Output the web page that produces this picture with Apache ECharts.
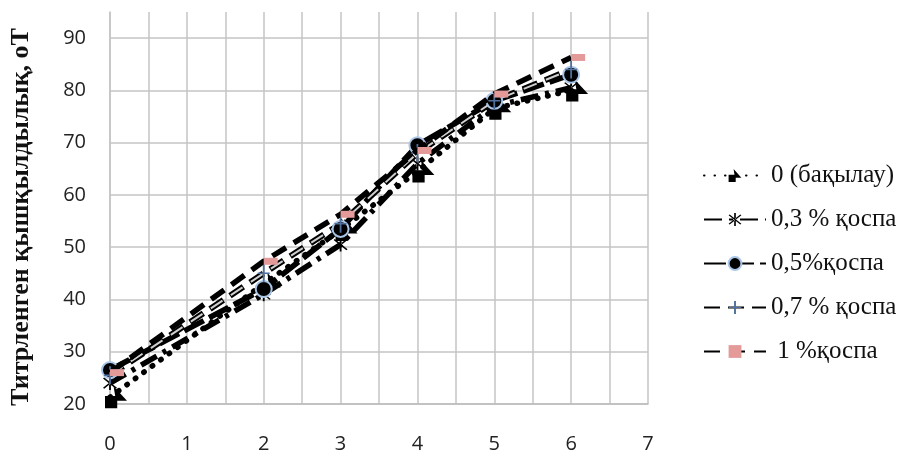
<!DOCTYPE html>
<html>
<head>
<meta charset="utf-8">
<script src="https://cdn.jsdelivr.net/npm/echarts@6/dist/echarts.min.js"></script>
<style>
  html, body { margin: 0; padding: 0; background: #fff; }
  #chart { width: 907px; height: 456px; }
</style>
</head>
<body>
<div id="chart"></div>
<script>
// Storage time (x) and titratable acidity (°T) for each additive level
const days = [0, 2, 3, 4, 5, 6];
const seriesNames = ['0 (бақылау)', '0,3 % қоспа', '0,5%қоспа', '0,7 % қоспа', ' 1 %қоспа'];
const control = [21.3, 43, 53.3, 64.5, 76.5, 80];
const add03 = [24, 41, 50.5, 66, 77, 80.5];
const add05 = [26.5, 42, 53.5, 69.5, 78, 83];
const add07 = [25.5, 45, 54.5, 68, 78, 84];
const add10 = [26, 47.3, 56.3, 68.5, 79.3, 86.3];
const xTicks = [0, 1, 2, 3, 4, 5, 6, 7];
const yTicks = [20, 30, 40, 50, 60, 70, 80, 90];

const pts = arr => days.map((d, i) => [d, arr[i]]);

// Marker shapes
const squareTri = 'path://M0,8 L10,8 L10,18 L0,18 Z M7,0 L18,12 L9,12 Z';
const asterisk = 'path://M-0.6,-6 L0.6,-6 L0.6,6 L-0.6,6 Z M-4.6,-4 L-3.8,-4.8 L4.6,4 L3.8,4.8 Z M4.6,-4 L3.8,-4.8 L-4.6,4 L-3.8,4.8 Z';
const thinPlus = 'path://M-0.6,-7 L0.6,-7 L0.6,7 L-0.6,7 Z M-4,-0.6 L4,-0.6 L4,0.6 L-4,0.6 Z';
const pinkDash = 'path://M0,0 L14,0 L14,6 L0,6 Z';

const chart = echarts.init(document.getElementById('chart'));
chart.setOption({
  animation: false,
  backgroundColor: '#ffffff',
  grid: { left: 107, right: 259, top: 12, bottom: 52 },
  xAxis: {
    type: 'value',
    min: xTicks[0],
    max: xTicks[xTicks.length - 1],
    interval: 0.5,
    axisLine: { show: true, lineStyle: { color: '#bdbdbd', width: 1.5 } },
    axisTick: { show: false },
    axisLabel: {
      margin: 30,
      fontFamily: 'Open Sans',
      fontSize: 20,
      color: '#222',
      formatter: v => (xTicks.indexOf(v) >= 0 ? String(v) : '')
    },
    splitLine: { show: true, lineStyle: { color: '#c4c4c4', width: 1.5 } }
  },
  yAxis: {
    type: 'value',
    min: yTicks[0],
    max: 95,
    interval: 10,
    name: 'Титрленген қышқылдылық, оТ',
    nameLocation: 'middle',
    nameGap: 76,
    nameTextStyle: {
      fontFamily: 'Liberation Serif',
      fontWeight: 'bold',
      fontSize: 26,
      color: '#111',
      padding: [0, 0, 0, -18]
    },
    axisLine: { show: true, lineStyle: { color: '#c4c4c4', width: 1.5 } },
    axisTick: { show: false },
    axisLabel: {
      margin: 24,
      fontFamily: 'Open Sans',
      fontSize: 20,
      color: '#222',
      showMaxLabel: false,
      formatter: v => (yTicks.indexOf(v) >= 0 ? String(v) : '')
    },
    splitLine: { show: true, showMaxLine: false, lineStyle: { color: '#c4c4c4', width: 1.5 } }
  },
  legend: {
    orient: 'vertical',
    left: 698,
    top: 158,
    itemGap: 19,
    itemWidth: 62,
    itemHeight: 16,
    data: seriesNames,
    textStyle: { fontFamily: 'Liberation Serif', fontSize: 25, color: '#111' }
  },
  series: [
    {
      name: seriesNames[0], type: 'line', data: pts(control), z: 3,
      symbol: squareTri, symbolSize: [22, 22], symbolOffset: [6, 0],
      itemStyle: { color: '#000' },
      lineStyle: { color: '#000', width: 5.5, type: [0.5, 10], cap: 'round' }
    },
    {
      name: seriesNames[1], type: 'line', data: pts(add03), z: 3,
      symbol: asterisk, symbolSize: 14,
      itemStyle: { color: '#000' },
      lineStyle: { color: '#000', width: 5.5, type: [18, 7, 4, 7] }
    },
    {
      name: seriesNames[2], type: 'line', data: pts(add05), z: 4,
      symbol: 'circle', symbolSize: 16,
      itemStyle: { color: '#000', borderColor: '#a9c6e8', borderWidth: 2 },
      lineStyle: { color: '#000', width: 5.5, type: [22, 6] }
    },
    {
      name: seriesNames[3], type: 'line', data: pts(add07), z: 4,
      symbol: thinPlus, symbolSize: [12, 18],
      itemStyle: { color: '#4f6f9c' },
      lineStyle: { color: '#000', width: 6, type: [16, 8] }
    },
    {
      // grey core of the outlined 0,7 % dashes
      name: 'core07', type: 'line', data: pts(add07), z: 4,
      symbol: 'none', silent: true,
      lineStyle: { color: '#cfcfcf', width: 2, type: [14, 10], dashOffset: -1 }
    },
    {
      name: seriesNames[4], type: 'line', data: pts(add10), z: 5,
      symbol: pinkDash, symbolSize: [14, 7], symbolOffset: [7, 0],
      itemStyle: { color: '#e59a9a' },
      lineStyle: { color: '#000', width: 5.5, type: [16, 9] }
    }
  ]
});
</script>
</body>
</html>
